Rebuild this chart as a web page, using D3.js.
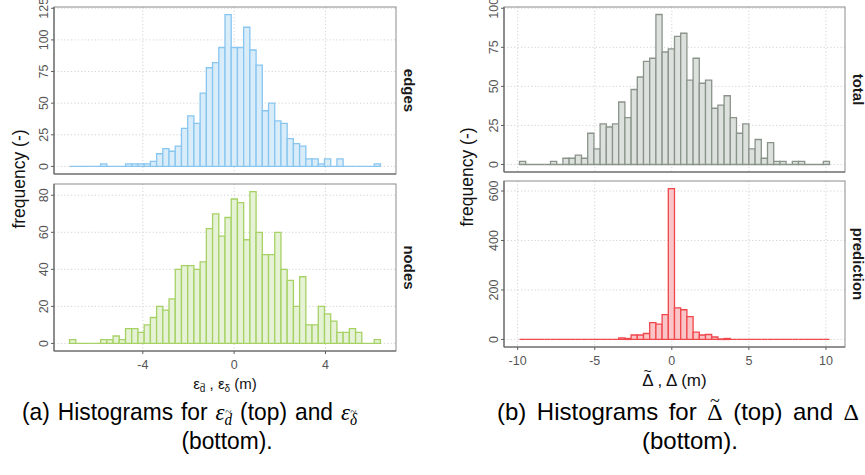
<!DOCTYPE html>
<html><head><meta charset="utf-8">
<script src="https://cdn.jsdelivr.net/npm/d3@7"></script>
<style>body{margin:0;background:#fff}svg{display:block}</style>
</head><body>
<svg id="c" width="865" height="475"></svg>
<script>
// ---- data ----
const edgesCounts = [0,0,0,0,0,2,0,0,0,2, 2,2,2,4,10,14,12,16,30,40, 34,58,78,82,94,120,94,94,110,92, 80,44,50,36,34,22,18,16,6,6, 2,6,0,6,0,0,0,0,0,2];
const nodesCounts = [2,0,0,0,0,2,2,4,2,8, 8,6,10,14,20,18,24,40,42,42, 40,44,62,70,58,68,78,76,56,82, 60,48,48,60,40,34,20,36,10,10, 20,16,12,6,6,8,6,0,0,2];
const totalCounts = [2,0,0,0,0,2,0,4,4,6, 4,20,10,26,24,26,40,30,48,56, 66,68,96,72,74,82,84,54,68,52, 54,36,38,44,30,20,26,10,16,4, 14,2,2,0,2,2,0,0,0,2];
const predictionCounts = [0,0,0,0,0,0,0,0,0,0, 0,0,0,0,0,0,6,4,18,18, 24,68,62,100,610,128,120,92,30,18, 20,10,2,4,0,0,0,0,0,0, 0,0,0,0,0,0,0,0,0,0];
const leftBins = {start:-7.21, width:0.2724, n:50};
const rightBins = {start:-9.88, width:0.4022, n:50};
const leftXTicks = [-4,0,4];
const rightXTicks = [-10,-5,0,5,10];
const edgesYTicks = [0,25,50,75,100,125];
const nodesYTicks = [0,20,40,60,80];
const totalYTicks = [0,25,50,75,100];
const predictionYTicks = [0,200,400,600];
const stripLabels = ["edges","nodes","total","prediction"];

const svg = d3.select('#c');
const font = "'Liberation Sans', Arial, sans-serif";
const serif = "'Liberation Serif', 'DejaVu Serif', serif";

function expandDomain(a,b){const s=(b-a)*0.05;return [a-s,b+s];}

function panel(o){
  const g = svg.append('g');
  const bins = o.bins;
  const xd = expandDomain(bins.start, bins.start+bins.n*bins.width);
  const x = d3.scaleLinear().domain(xd).range([o.x0,o.x1]);
  const maxC = d3.max(o.counts);
  const y = d3.scaleLinear().domain([-0.05*maxC, 1.05*maxC]).range([o.y1,o.y0]);
  g.selectAll('line.gy').data(o.yTicks).join('line')
    .attr('x1',o.x0).attr('x2',o.x1).attr('y1',d=>y(d)).attr('y2',d=>y(d))
    .attr('stroke','#cfcfcf').attr('stroke-width',0.9).attr('stroke-dasharray','1.2,2.2');
  g.selectAll('line.gx').data(o.xTicks).join('line')
    .attr('y1',o.y0).attr('y2',o.y1).attr('x1',d=>x(d)).attr('x2',d=>x(d))
    .attr('stroke','#cfcfcf').attr('stroke-width',0.9).attr('stroke-dasharray','1.2,2.2');
  g.selectAll('path.bar').data(o.counts).join('path')
    .attr('d',(c,i)=>{
      const a = x(bins.start+i*bins.width), b = x(bins.start+(i+1)*bins.width);
      const y0 = y(0), yt = y(c);
      return `M${a},${y0}V${yt}H${b}V${y0}Z`;
    })
    .attr('fill',o.fill).attr('stroke',o.stroke).attr('stroke-width',1.3);
  g.append('rect').attr('x',o.x0).attr('y',o.y0).attr('width',o.x1-o.x0).attr('height',o.y1-o.y0)
    .attr('fill','none').attr('stroke','#8c8c8c').attr('stroke-width',1);
  g.append('line').attr('x1',o.x0).attr('x2',o.x0).attr('y1',o.y0).attr('y2',o.y1).attr('stroke','#5f5f5f').attr('stroke-width',1.1);
  g.append('line').attr('x1',o.x0).attr('x2',o.x1).attr('y1',o.y1).attr('y2',o.y1).attr('stroke','#5f5f5f').attr('stroke-width',1.1);
  g.selectAll('line.ty').data(o.yTicks).join('line')
    .attr('x1',o.x0-3).attr('x2',o.x0).attr('y1',d=>y(d)).attr('y2',d=>y(d)).attr('stroke','#5f5f5f');
  g.selectAll('text.ly').data(o.yTicks).join('text')
    .attr('transform',d=>`translate(${o.x0-11},${y(d)}) rotate(-90)`)
    .attr('text-anchor','middle').attr('dy','0.36em')
    .attr('font-family',font).attr('font-size',12.5).attr('fill','#555')
    .text(d=>d);
  if(o.showX){
    g.selectAll('line.tx').data(o.xTicks).join('line')
      .attr('x1',d=>x(d)).attr('x2',d=>x(d)).attr('y1',o.y1).attr('y2',o.y1+3).attr('stroke','#5f5f5f');
    g.selectAll('text.lx').data(o.xTicks).join('text')
      .attr('x',d=>x(d)).attr('y',o.y1+13.5).attr('dy','0.36em').attr('text-anchor','middle')
      .attr('font-family',font).attr('font-size',12.5).attr('fill','#555')
      .text(d=>d);
  }
  g.append('text').attr('transform',`translate(${o.stripX},${(o.y0+o.y1)/2}) rotate(90)`)
    .attr('text-anchor','middle').attr('dy','0.36em')
    .attr('font-family',font).attr('font-size',15).attr('font-weight','bold').attr('fill','#1a1a1a')
    .text(o.strip);
}

panel({x0:54,x1:396,y0:7,y1:174,bins:leftBins,counts:edgesCounts,yTicks:edgesYTicks,xTicks:leftXTicks,
  fill:'#d9ecfa',stroke:'#88c6f0',strip:stripLabels[0],stripX:409,showX:false});
panel({x0:54,x1:396,y0:184,y1:351,bins:leftBins,counts:nodesCounts,yTicks:nodesYTicks,xTicks:leftXTicks,
  fill:'#e6f2d5',stroke:'#a6d165',strip:stripLabels[1],stripX:409,showX:true});
panel({x0:504,x1:845,y0:7,y1:172,bins:rightBins,counts:totalCounts,yTicks:totalYTicks,xTicks:rightXTicks,
  fill:'#dde1dd',stroke:'#8a948a',strip:stripLabels[2],stripX:858,showX:false});
panel({x0:504,x1:845,y0:181,y1:347,bins:rightBins,counts:predictionCounts,yTicks:predictionYTicks,xTicks:rightXTicks,
  fill:'#f9c5c7',stroke:'#f0474d',strip:stripLabels[3],stripX:858,showX:true});

// y titles
[[19,179],[467,177]].forEach(([cx,cy])=>{
  svg.append('text').attr('transform',`translate(${cx},${cy}) rotate(-90)`)
    .attr('text-anchor','middle').attr('dy','0.36em')
    .attr('font-family',font).attr('font-size',17.5).attr('fill','#111')
    .text('frequency (-)');
});

// put a tilde above character idx of a text node (same parent group)
function addTilde(parent, textSel, idx, baseY, capH, tfs, family){
  const n = textSel.node();
  const ext = n.getExtentOfChar(idx);
  const cx = ext.x + ext.width/2;
  const center = baseY - capH - 0.16*tfs;
  parent.append('text').attr('x',cx).attr('y',center + 0.34*tfs).attr('text-anchor','middle')
    .attr('font-family',family||font).attr('font-size',tfs).attr('fill','#111').text('~');
}

// x titles
{
  const g = svg.append('g');
  const t = g.append('text').attr('x',225).attr('y',389).attr('text-anchor','middle')
    .attr('font-family',font).attr('font-size',15).attr('fill','#111');
  t.append('tspan').text('ε');
  t.append('tspan').attr('font-size',10).attr('dy',3).text('d');
  t.append('tspan').attr('dy',-3).text(' , ε');
  t.append('tspan').attr('font-size',10).attr('dy',3).text('δ');
  t.append('tspan').attr('dy',-3).text(' (m)');
  addTilde(g, t, 1, 392, 7.4, 8);
  addTilde(g, t, 5, 392, 7.4, 8);
}
{
  const g = svg.append('g');
  const t = g.append('text').attr('x',674.5).attr('y',386).attr('text-anchor','middle')
    .attr('font-family',font).attr('font-size',17).attr('fill','#111');
  t.append('tspan').text('Δ , Δ (m)');
  addTilde(g, t, 0, 386, 12.2, 14);
}

// captions (justified first line, centred last line)
const capFS = 24;
function justifyLine(x, y, target, sx, builders){
  const g = svg.append('g').attr('transform',`translate(${x},${y}) scale(${sx},1)`);
  const nodes = builders.map(b=>{
    const t = g.append('text').attr('font-family',font).attr('font-size',capFS).attr('fill','#000');
    b(t); return t;
  });
  const widths = nodes.map(t=>t.node().getComputedTextLength());
  const gap = (target/sx - d3.sum(widths))/(nodes.length-1);
  let cx = 0;
  nodes.forEach((t,i)=>{ t.attr('x',cx); cx += widths[i]+gap; });
  return {g, nodes};
}
function centredLine(cx, y, sx, txt){
  svg.append('g').attr('transform',`translate(${cx},${y}) scale(${sx},1)`)
    .append('text').attr('text-anchor','middle').attr('font-family',font).attr('font-size',capFS)
    .attr('fill','#000').text(txt);
}
const wordTxt = s => t => t.text(s);
const epsSub = s => t => {
  t.append('tspan').attr('font-family',serif).attr('font-style','italic').text('ε');
  t.append('tspan').attr('font-family',serif).attr('font-style','italic').attr('font-size',16).attr('dy',5).text(s);
};
{
  const L = justifyLine(22, 420, 335, 0.95, [wordTxt('(a)'),wordTxt('Histograms'),wordTxt('for'),epsSub('d'),
    wordTxt('(top)'),wordTxt('and'),epsSub('δ')]);
  addTilde(L.g, L.nodes[3], 1, 5, 11.5, 12, serif);
  addTilde(L.g, L.nodes[6], 1, 5, 11.5, 12, serif);
  centredLine(227, 449, 0.95, '(bottom).');
}
{
  const delta = t => t.append('tspan').attr('font-family',serif).text('Δ');
  const R = justifyLine(497, 420, 362, 1.0, [wordTxt('(b)'),wordTxt('Histograms'),wordTxt('for'),delta,
    wordTxt('(top)'),wordTxt('and'),delta]);
  addTilde(R.g, R.nodes[3], 0, 0, 16, 18, serif);
  centredLine(690, 449, 1.0, '(bottom).');
}
</script>
</body></html>
